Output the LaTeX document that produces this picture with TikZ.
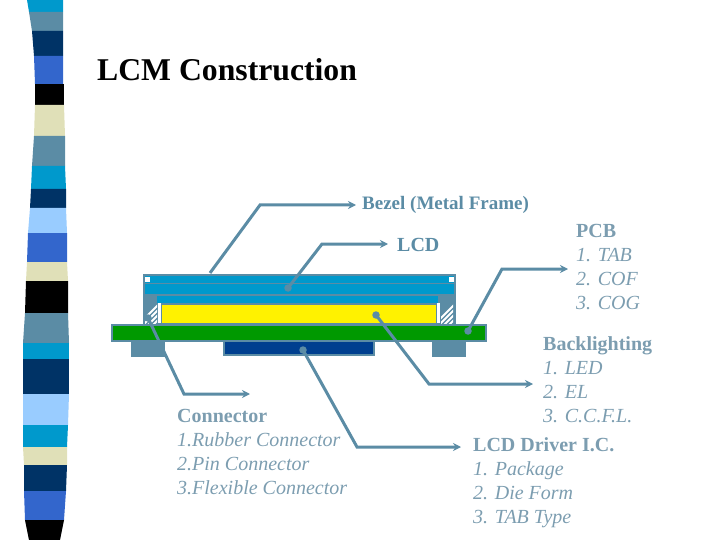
\documentclass[tikz,border=0pt]{standalone}
\usepackage{fontspec}
\setmainfont{Liberation Serif}
\usepackage{tikz}
\usetikzlibrary{arrows.meta,calc}
\definecolor{steel}{HTML}{5B8CA5}
\definecolor{thin}{HTML}{7C9DB0}
\definecolor{sky}{HTML}{0099CC}
\definecolor{navy}{HTML}{003366}
\definecolor{royal}{HTML}{3366CC}
\definecolor{pale}{HTML}{99CCFF}
\definecolor{sand}{HTML}{E0E0B8}
\definecolor{drv}{HTML}{003F8F}
\definecolor{pcb}{HTML}{009900}
\tikzset{
  x=1pt,y=-1pt,
  >={Stealth[length=8pt,width=8pt]},
  lead/.style={draw=steel,line width=3pt,->},
  dot/.style={circle,fill=steel,inner sep=0pt,minimum size=7.5pt},
  part/.style={draw=steel,line width=2pt},
  lbl/.style={anchor=north west,inner sep=0pt,text=thin,align=left,font=\fontsize{20}{24}\selectfont\itshape},
  hd/.style={anchor=west,inner sep=0pt,text=steel,font=\fontsize{20}{24}\selectfont\bfseries},
}
\newcommand{\hatchbox}[4]{\begin{scope}
  \clip (#1,#2) rectangle (#3,#4);
  \fill[steel] (#1,#2) rectangle (#3,#4);
  \foreach \hx in {0,5,...,50} \draw[white,line width=2pt] (#1-10+\hx,#4+5) -- ++(40,-40);
\end{scope}}
\begin{document}
\begin{tikzpicture}
\useasboundingbox (0,0) rectangle (720,540);
% left stripe
\foreach \ya/\xa/\xb/\yb/\xc/\xd/\col in {
  0/27/63/12/29/63/sky, 12/29/63/31/32/63/steel, 31/32/63/56/34/63/navy, 56/34/63/84/35/63/royal,
  84/35/64/105/35/64/black, 105/35/64/136/34/65/sand, 136/34/65/166/32/65/steel, 166/32/65/189/31/66/sky,
  189/31/66/208/30/66/navy, 208/30/66/233/28/67/pale, 233/28/67/262/27/67/royal, 262/27/67/281/26/68/sand,
  281/26/68/313/25/68/black, 313/25/68/343/23/69/steel, 343/23/69/359/23/69/sky, 359/23/69/394/23/69/navy,
  394/23/69/425/23/68/pale, 425/23/68/447/23/67/sky, 447/23/67/465/24/67/sand, 465/24/67/491/24/66/navy,
  491/24/66/520/25/64/royal, 520/25/64/540/29/60/black}
  \fill[\col] (\xa,\ya) -- (\xb,\ya) -- (\xd,\yb) -- (\xc,\yb) -- cycle;
\node[anchor=west,inner sep=0pt,font=\fontsize{31.7}{36}\selectfont\bfseries] (title) at (97,70) {LCM Construction};
% bezel and lcd
\fill[steel] (143,274) rectangle (456,325);
\fill[sky] (145,276) rectangle (454,283);
\fill[sky] (145,284) rectangle (454,294);
\fill[sky] (145,296) rectangle (438,303);
\fill[white] (145,277) rectangle (150,282);
\fill[white] (449,277) rectangle (454,282);
\fill[steel] (157,303) rectangle (440,325);
\fill[yellow] (162,305) rectangle (436,323);
\fill[white] (158,303) rectangle (161,323);
\fill[white] (437,303) rectangle (440,323);
\hatchbox{145}{296}{157}{323}
\hatchbox{441}{296}{453}{323}
% pcb, feet, driver
\fill[steel] (131,340) rectangle (165,357);
\fill[steel] (432,340) rectangle (466,357);
\draw[part,fill=drv] (224,341) rectangle (374,355);
\draw[part,fill=pcb] (112,325) rectangle (486,341);
% labels
\node[hd,font=\fontsize{19}{24}\selectfont\bfseries] (bezel) at (362,205) {Bezel (Metal Frame)};
\node[hd] (lcd) at (397,245) {LCD};
\node[lbl] (pcbl) at (576,224) {\textbf{\textup{PCB}}\\1. TAB\\2. COF\\3. COG};
\node[lbl] (back) at (543,336) {\textbf{\textup{Backlighting}}\\1. LED\\2. EL\\3. C.C.F.L.};
\node[lbl] (conn) at (177,409) {\textbf{\textup{Connector}}\\1.Rubber Connector\\2.Pin Connector\\3.Flexible Connector};
\node[lbl] (drvl) at (473,437) {\textbf{\textup{LCD Driver I.C.}}\\1. Package\\2. Die Form\\3. TAB Type};
% leads
\coordinate (bzs) at (210,273); \coordinate (bzc) at (260,205); \coordinate (bze) at (356,205);
\coordinate (lcs) at (288,288); \coordinate (lcc) at (322,244); \coordinate (lce) at (388,244);
\coordinate (pcs) at (468,331); \coordinate (pcc) at (502,269); \coordinate (pce) at (568,269);
\coordinate (bls) at (376,315); \coordinate (blc) at (429,384); \coordinate (ble) at (533,384);
\coordinate (drs) at (303,350); \coordinate (drc) at (357,447); \coordinate (dre) at (461,447);
\coordinate (cos) at (148,318); \coordinate (coc) at (184,394); \coordinate (coe) at (250,394);
\node[dot] at (lcs) {}; \node[dot] at (pcs) {}; \node[dot] at (bls) {}; \node[dot] at (drs) {}; \node[dot] at (cos) {};
\draw[lead] (bzs) -- (bzc) -- (bze);
\draw[lead] (lcs) -- (lcc) -- (lce);
\draw[lead] (pcs) -- (pcc) -- (pce);
\draw[lead] (bls) -- (blc) -- (ble);
\draw[lead] (drs) -- (drc) -- (dre);
\draw[lead] (cos) -- (coc) -- (coe);
\end{tikzpicture}
\end{document}
